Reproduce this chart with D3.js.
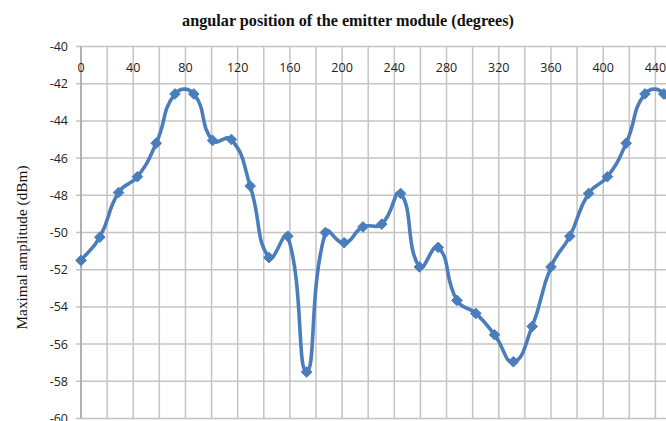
<!DOCTYPE html>
<html><head><meta charset="utf-8">
<script src="https://cdn.jsdelivr.net/npm/d3@7"></script>
<style>
html,body{margin:0;padding:0;background:#fff;overflow:hidden}
svg{display:block}
</style></head>
<body>
<svg id="chart" width="666" height="421"></svg>
<script>
// ---- data ----
const angles = [0, 14.4, 28.8, 43.2, 57.6, 72, 86.4, 100.8, 115.2, 129.6, 144, 158.4, 172.8, 187.2, 201.6, 216,
  230.4, 244.8, 259.2, 273.6, 288, 302.4, 316.8, 331.2, 345.6, 360, 374.4, 388.8, 403.2, 417.6, 432, 446.4, 460.8];
const amplitude = [-51.5, -50.25, -47.85, -47.0, -45.2, -42.55, -42.55, -45.05, -45.0, -47.5, -51.35, -50.2, -57.5,
  -50.0, -50.55, -49.7, -49.55, -47.9, -51.85, -50.8, -53.65, -54.35, -55.5, -56.95, -55.05, -51.85, -50.2,
  -47.9, -47.0, -45.2, -42.55, -42.55, -45.05];
const xTickLabels = [0, 40, 80, 120, 160, 200, 240, 280, 320, 360, 400, 440, 480];
const xGridValues = [0, 20, 40, 60, 80, 100, 120, 140, 160, 180, 200, 220, 240, 260, 280, 300, 320, 340, 360, 380, 400, 420, 440, 460, 480];
const yTickLabels = [-40, -42, -44, -46, -48, -50, -52, -54, -56, -58, -60];
const titleText = "angular position of the emitter module (degrees)";
const yTitleText = "Maximal amplitude (dBm)";

// ---- layout ----
const svg = d3.select("#chart");
const pLeft = 81, pTop = 46.5, pBottom = 418.5;
const x = d3.scaleLinear().domain([0, 480]).range([pLeft, pLeft + 480 * 1.3055]);
const y = d3.scaleLinear().domain([-60, -40]).range([pBottom, pTop]);
const gridColor = "#c4c4c4";
const lineColor = "#4a7dbb";
const tickFont = "Open Sans, Liberation Sans, sans-serif";

// gridlines
svg.append("g").selectAll("line").data(yTickLabels).join("line")
  .attr("x1", pLeft - 5).attr("x2", 700)
  .attr("y1", d => y(d)).attr("y2", d => y(d))
  .attr("stroke", gridColor).attr("stroke-width", 1.5);
svg.append("g").selectAll("line").data(xGridValues).join("line")
  .attr("x1", d => x(d)).attr("x2", d => x(d))
  .attr("y1", pTop).attr("y2", pBottom)
  .attr("stroke", gridColor).attr("stroke-width", 1.5);

// left axis line
svg.append("line").attr("x1", pLeft).attr("x2", pLeft).attr("y1", pTop).attr("y2", pBottom)
  .attr("stroke", "#a6a6a6").attr("stroke-width", 1.5);

// y tick labels
svg.append("g").selectAll("text").data(yTickLabels).join("text")
  .attr("x", pLeft - 13).attr("y", d => y(d)).attr("dy", "0.36em")
  .attr("text-anchor", "end").attr("font-family", tickFont).attr("font-size", 12.5)
  .attr("fill", "#222").text(d => d);

// x tick labels (inside top)
svg.append("g").selectAll("text").data(xTickLabels).join("text")
  .attr("x", d => x(d)).attr("y", pTop + 25)
  .attr("text-anchor", "middle").attr("font-family", tickFont).attr("font-size", 12.5)
  .attr("fill", "#222").text(d => d);

// smoothed line (spreadsheet-style distance-weighted Bezier smoothing)
const pts = angles.map((a, i) => [a, amplitude[i]]);
function smoothPath(data) {
  const p = data.map(d => [x(d[0]), y(d[1])]);
  const ctx = d3.path();
  const T = 0.5;
  const dist = (a, b) => Math.hypot(b[0] - a[0], b[1] - a[1]);
  ctx.moveTo(p[0][0], p[0][1]);
  for (let i = 0; i < p.length - 1; i++) {
    const p0 = p[i - 1] || p[i], p1 = p[i], p2 = p[i + 1], p3 = p[i + 2] || p[i + 1];
    const d01 = dist(p0, p1), d12 = dist(p1, p2), d23 = dist(p2, p3);
    const f1 = (d01 + d12) > 0 ? T * d12 / (d01 + d12) : 0;
    const f2 = (d12 + d23) > 0 ? T * d12 / (d12 + d23) : 0;
    const c1 = [p1[0] + f1 * (p2[0] - p0[0]), p1[1] + f1 * (p2[1] - p0[1])];
    const c2 = [p2[0] - f2 * (p3[0] - p1[0]), p2[1] - f2 * (p3[1] - p1[1])];
    ctx.bezierCurveTo(c1[0], c1[1], c2[0], c2[1], p2[0], p2[1]);
  }
  return ctx.toString();
}
svg.append("path").attr("d", smoothPath(pts)).attr("fill", "none")
  .attr("stroke", lineColor).attr("stroke-width", 3.6).attr("stroke-linejoin", "round");

// diamond markers
const diamond = d3.symbol().type(d3.symbolDiamond2).size(72);
svg.append("g").selectAll("path").data(pts).join("path")
  .attr("d", diamond).attr("transform", d => `translate(${x(d[0])},${y(d[1])})`)
  .attr("fill", lineColor).attr("stroke", lineColor).attr("stroke-width", 1);

// titles
svg.append("text").attr("x", 348).attr("y", 26).attr("text-anchor", "middle")
  .attr("font-family", "Liberation Serif, DejaVu Serif, serif").attr("font-weight", "bold")
  .attr("font-size", 16.2).attr("fill", "#111").text(titleText);
svg.append("text").attr("transform", `translate(27,${(pTop + pBottom) / 2 + 15}) rotate(-90)`)
  .attr("text-anchor", "middle").attr("font-family", "Liberation Serif, DejaVu Serif, serif")
  .attr("font-size", 15.3).attr("fill", "#111").text(yTitleText);
</script>
</body></html>
